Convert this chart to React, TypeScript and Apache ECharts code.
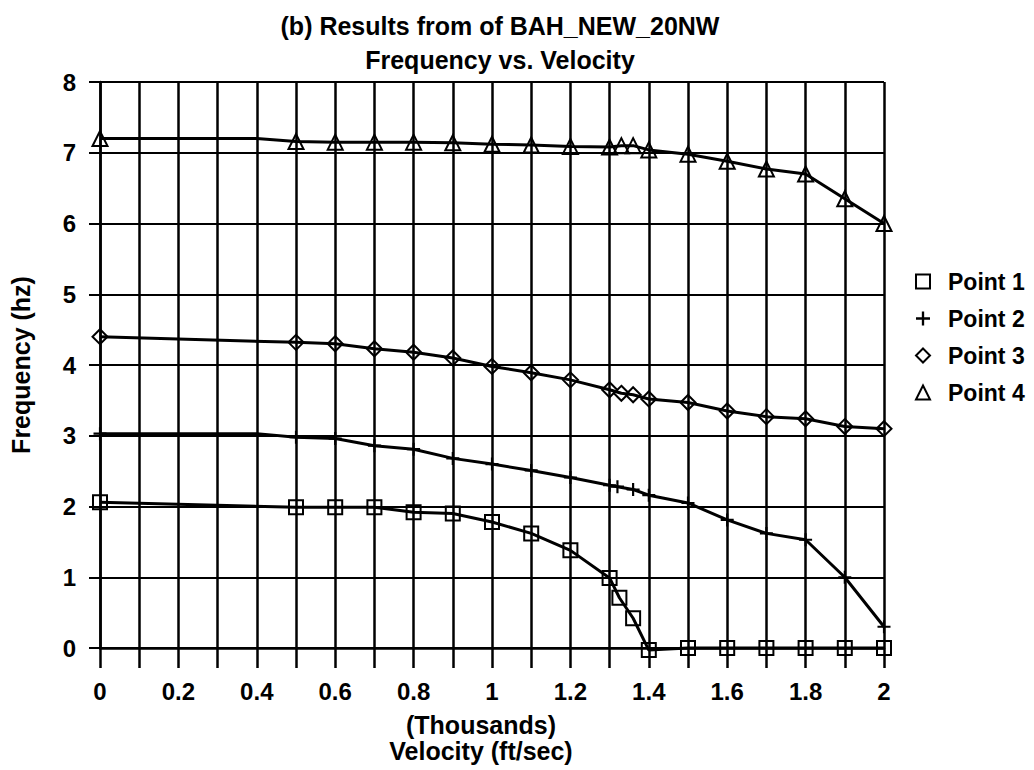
import React, { useEffect, useRef } from "react";
import * as echarts from "echarts";

const titleLines = ["(b) Results from of BAH_NEW_20NW", "Frequency vs. Velocity"];
const xTickLabels = ["0", "0.2", "0.4", "0.6", "0.8", "1", "1.2", "1.4", "1.6", "1.8", "2"];
const yTickLabels = ["0", "1", "2", "3", "4", "5", "6", "7", "8"];
const seriesNames = ["Point 1", "Point 2", "Point 3", "Point 4"];

const velocity1 = [0, 0.5, 0.6, 0.7, 0.8, 0.9, 1.0, 1.1, 1.2, 1.3, 1.325, 1.36, 1.4, 1.5, 1.6, 1.7, 1.8, 1.9, 2.0];
const freq1 = [2.06, 1.99, 1.99, 1.99, 1.92, 1.9, 1.78, 1.62, 1.38, 0.99, 0.71, 0.42, -0.03, 0, 0, 0, 0, 0, 0];

const velocity2 = [0, 0.4, 0.5, 0.6, 0.7, 0.8, 0.9, 1.0, 1.1, 1.2, 1.3, 1.32, 1.36, 1.4, 1.5, 1.6, 1.7, 1.8, 1.9, 2.0];
const freq2 = [3.03, 3.03, 2.98, 2.96, 2.86, 2.81, 2.68, 2.6, 2.51, 2.41, 2.3, 2.28, 2.24, 2.16, 2.05, 1.81, 1.62, 1.53, 1.0, 0.3];

const velocity3 = [0, 0.5, 0.6, 0.7, 0.8, 0.9, 1.0, 1.1, 1.2, 1.3, 1.33, 1.36, 1.4, 1.5, 1.6, 1.7, 1.8, 1.9, 2.0];
const freq3 = [4.4, 4.32, 4.3, 4.23, 4.18, 4.1, 3.98, 3.89, 3.79, 3.65, 3.6, 3.58, 3.52, 3.47, 3.35, 3.27, 3.24, 3.13, 3.1];

const velocity4 = [0, 0.4, 0.5, 0.6, 0.7, 0.8, 0.9, 1.0, 1.1, 1.2, 1.3, 1.33, 1.36, 1.4, 1.5, 1.6, 1.7, 1.8, 1.9, 2.0];
const freq4 = [7.2, 7.2, 7.16, 7.15, 7.15, 7.15, 7.14, 7.12, 7.11, 7.09, 7.08, 7.1, 7.1, 7.04, 6.98, 6.88, 6.77, 6.7, 6.35, 6.0];

// vertices where the drawn line bends but no marker is shown
const hiddenMarkerX = [0.4];

const PLUS = "path://M-1,-6L1,-6L1,-1L6,-1L6,1L1,1L1,6L-1,6L-1,1L-6,1L-6,-1L-1,-1Z";
const symbols = ["rect", PLUS, "diamond", "triangle"];
const symbolSizes = [14, 13, 15, 15];

const FONT = "Liberation Sans";

function buildData(xs: number[], ys: number[]) {
  return xs.map((x, i) =>
    hiddenMarkerX.includes(x) ? { value: [x, ys[i]], symbol: "none" } : { value: [x, ys[i]] }
  );
}

export default function App() {
  const ref = useRef<HTMLDivElement>(null);
  useEffect(() => {
    if (!ref.current) return;
    const chart = echarts.init(ref.current, null, { renderer: "svg" });
    const all = [
      [velocity1, freq1],
      [velocity2, freq2],
      [velocity3, freq3],
      [velocity4, freq4],
    ];
    const series = all.map(([xs, ys], k) => {
      const filled = k === 1;
      return {
        name: seriesNames[k],
        type: "line",
        data: buildData(xs as number[], ys as number[]),
        symbol: symbols[k],
        symbolSize: symbolSizes[k],
        showSymbol: true,
        clip: false,
        lineStyle: { color: "#000", width: 3 },
        itemStyle: filled
          ? { color: "#000", borderWidth: 0 }
          : { color: "rgba(0,0,0,0)", borderColor: "#000", borderWidth: 2 },
        z: 5,
      };
    });
    const titleStyle = { fontFamily: FONT, fontSize: 25, fontWeight: "bold", color: "#000" };
    chart.setOption({
      animation: false,
      backgroundColor: "#fff",
      textStyle: { fontFamily: FONT, color: "#000" },
      title: [
        { text: titleLines[0], left: 495, top: 8, textAlign: "center", textStyle: titleStyle },
        { text: titleLines[1], left: 495, top: 42, textAlign: "center", textStyle: titleStyle },
      ],
      legend: {
        orient: "vertical",
        left: 915,
        top: 270,
        itemGap: 14,
        itemWidth: 14,
        itemHeight: 14,
        padding: 0,
        textStyle: {
          fontFamily: FONT,
          fontSize: 23,
          fontWeight: "bold",
          color: "#000",
          lineHeight: 23,
          padding: [0, 0, 0, 13],
        },
        data: seriesNames.map((n, k) => ({ name: n, icon: symbols[k] })),
      },
      grid: { left: 97, right: 150, top: 82, bottom: 122, containLabel: false },
      xAxis: {
        type: "value",
        min: 0,
        max: 2,
        interval: 0.2,
        name: "(Thousands)\nVelocity (ft/sec)",
        nameLocation: "middle",
        nameGap: 64,
        nameTextStyle: {
          fontFamily: FONT,
          fontSize: 25,
          fontWeight: "bold",
          color: "#000",
          lineHeight: 26,
          padding: [0, 22, 0, 0],
        },
        axisLine: { show: true, lineStyle: { color: "#000", width: 2.5 } },
        axisTick: { show: true, length: 20, lineStyle: { color: "#000", width: 2.5 } },
        minorTick: { show: true, splitNumber: 2, length: 20, lineStyle: { color: "#000", width: 2.5 } },
        splitLine: { show: true, lineStyle: { color: "#000", width: 2.5 } },
        minorSplitLine: { show: true, lineStyle: { color: "#000", width: 2.5 } },
        axisLabel: {
          margin: 31,
          fontSize: 24,
          fontWeight: "bold",
          color: "#000",
          fontFamily: FONT,
          formatter: (_v: number, i: number) => xTickLabels[i],
        },
      },
      yAxis: {
        type: "value",
        min: 0,
        max: 8,
        interval: 1,
        name: "Frequency (hz)",
        nameLocation: "middle",
        nameGap: 67,
        nameTextStyle: { fontFamily: FONT, fontSize: 25, fontWeight: "bold", color: "#000" },
        axisLine: { show: true, lineStyle: { color: "#000", width: 2.5 } },
        axisTick: { show: true, length: 11, lineStyle: { color: "#000", width: 2 } },
        splitLine: { show: true, lineStyle: { color: "#000", width: 2 } },
        axisLabel: {
          margin: 24,
          fontSize: 24,
          fontWeight: "bold",
          color: "#000",
          fontFamily: FONT,
          formatter: (_v: number, i: number) => yTickLabels[i],
        },
      },
      series,
    });
    return () => chart.dispose();
  }, []);
  return (
    <div
      ref={ref}
      style={{ position: "fixed", left: 0, top: 0, width: 1034, height: 770, background: "#fff" }}
    />
  );
}
